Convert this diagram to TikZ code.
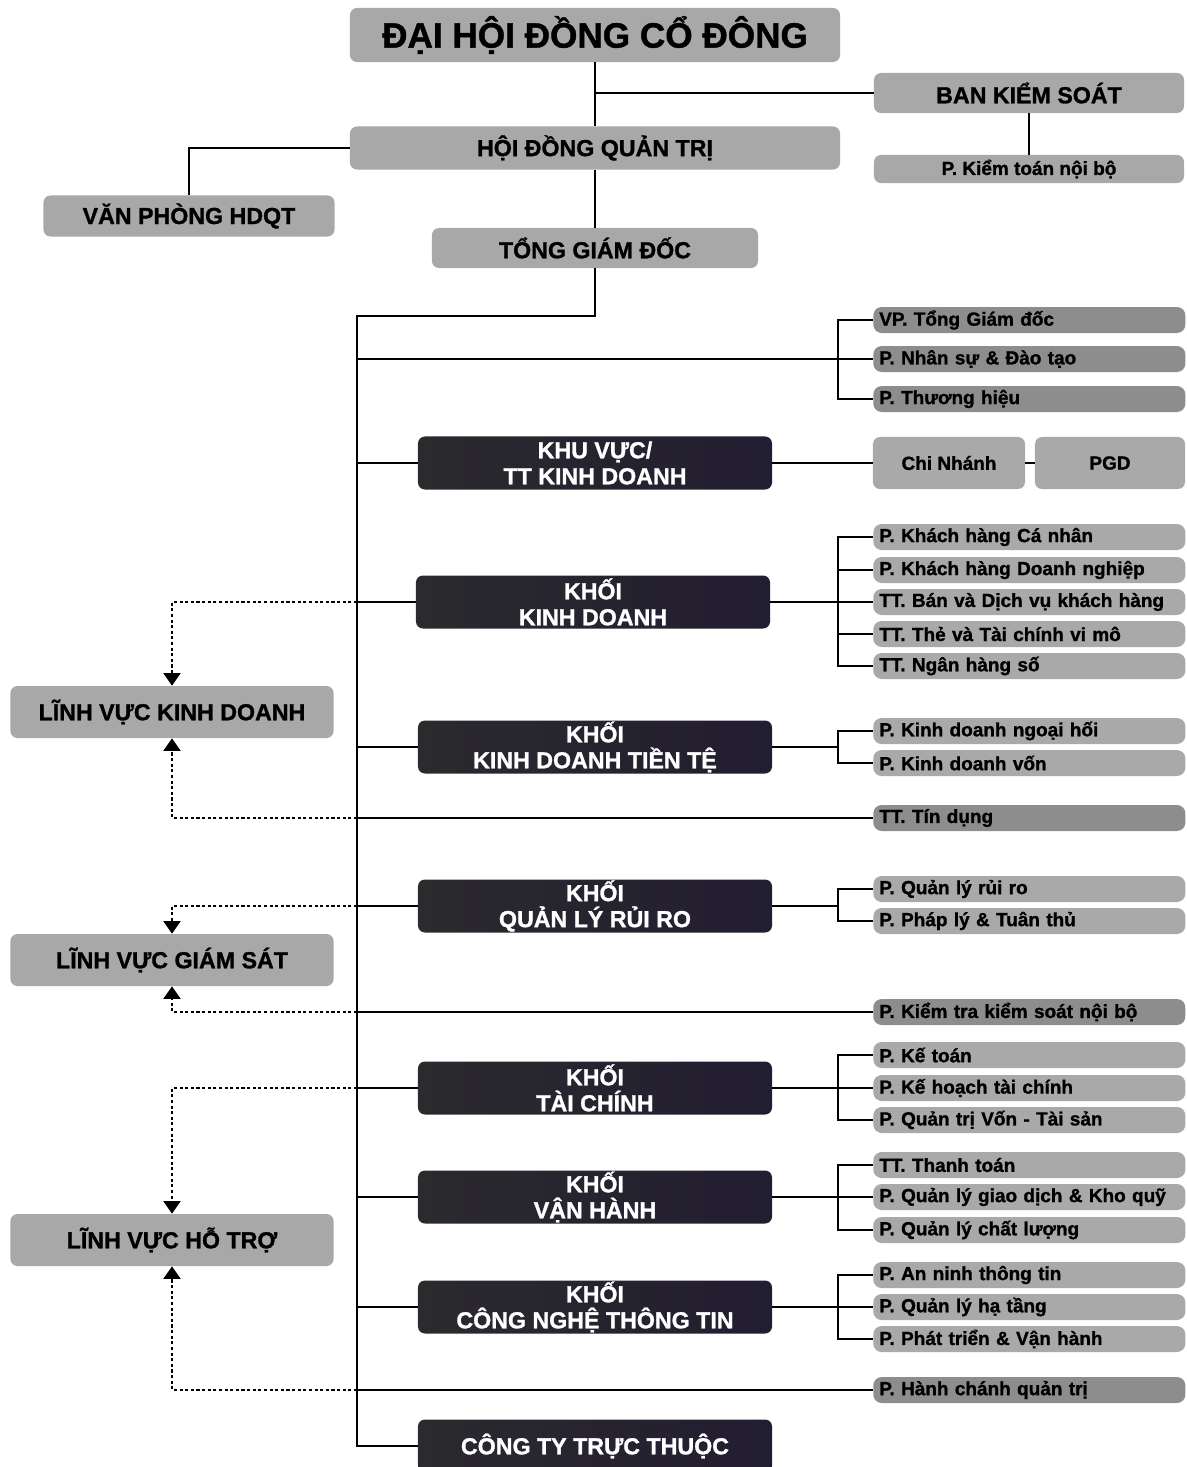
\documentclass[tikz,border=0pt]{standalone}
\usepackage{fontspec}
\setmainfont{Liberation Sans}[BoldFeatures={FakeBold=1.2}]
\usetikzlibrary{arrows.meta}

\definecolor{boxgray}{HTML}{A8A8A8}
\definecolor{subgray}{HTML}{A9A9A9}
\definecolor{subdark}{HTML}{8D8D8D}
\definecolor{darkA}{HTML}{2B2A2D}
\definecolor{darkB}{HTML}{221D31}

\begin{document}
\begin{tikzpicture}[x=0.025cm, y=-0.025cm,
    topbox/.style={fill=boxgray, rounded corners=5pt, inner sep=0pt, align=center,
        font=\bfseries\fontsize{16.5}{19}\selectfont},
    khoi/.style={rounded corners=5pt, left color=darkA, right color=darkB, text=white,
        inner sep=0pt, align=center, minimum width=8.85cm, minimum height=1.325cm,
        font=\bfseries\fontsize{16.5}{18.5}\selectfont},
    sub/.style={fill=#1, rounded corners=6pt, anchor=west, inner xsep=0.15cm, inner ysep=0pt,
        text width=7.5cm, minimum height=0.65cm, align=left,
        font=\bfseries\fontsize{13.5}{15}\selectfont},
    link/.style={line width=1.3pt},
    dotlink/.style={line width=1.8pt, dash pattern=on 2.2pt off 1.8pt,
        -{Triangle[width=12pt,length=9pt]}}
  ]
  \useasboundingbox (0,0) rectangle (1187,1467);

  % Top
  \node[topbox, minimum width=12.25cm, minimum height=1.35cm,
        font=\bfseries\fontsize{25}{28}\selectfont] (dhcd) at (595,35) {ĐẠI HỘI ĐỒNG CỔ ĐÔNG};
  \node[topbox, minimum width=7.75cm, minimum height=1cm] (bks) at (1029,93) {BAN KIỂM SOÁT};
  \node[topbox, minimum width=7.75cm, minimum height=0.7cm,
        font=\bfseries\fontsize{13.5}{15}\selectfont] (ktnb) at (1029,169) {P. Kiểm toán nội bộ};
  \node[topbox, minimum width=12.25cm, minimum height=1.075cm] (hdqt) at (595,148) {HỘI ĐỒNG QUẢN TRỊ};
  \node[topbox, minimum width=7.275cm, minimum height=1.025cm] (vphd) at (189,216) {VĂN PHÒNG HDQT};
  \node[topbox, minimum width=8.15cm, minimum height=1cm] (tgd) at (595,248) {TỔNG GIÁM ĐỐC};

  % Khoi
  \node[khoi] (kvkd) at (595,463) {KHU VỰC/\\TT KINH DOANH};
  \node[khoi] (kkd) at (593,602) {KHỐI\\KINH DOANH};
  \node[khoi] (kdtt) at (595,747) {KHỐI\\KINH DOANH TIỀN TỆ};
  \node[khoi] (qlrr) at (595,906) {KHỐI\\QUẢN LÝ RỦI RO};
  \node[khoi] (ktc) at (595,1088) {KHỐI\\TÀI CHÍNH};
  \node[khoi] (kvh) at (595,1197) {KHỐI\\VẬN HÀNH};
  \node[khoi] (cntt) at (595,1307) {KHỐI\\CÔNG NGHỆ THÔNG TIN};
  \node[khoi] (cty) at (595,1446) {CÔNG TY TRỰC THUỘC};

  % Linh vuc
  \node[topbox, minimum width=8.075cm, minimum height=1.3cm] (lvkd) at (172,712) {LĨNH VỰC KINH DOANH};
  \node[topbox, minimum width=8.075cm, minimum height=1.3cm] (lvgs) at (172,960) {LĨNH VỰC GIÁM SÁT};
  \node[topbox, minimum width=8.075cm, minimum height=1.3cm] (lvht) at (172,1240) {LĨNH VỰC HỖ TRỢ};

  % Phong ban
  \foreach \n/\y/\c/\t in {
      vptgd/320/subdark/VP. Tổng Giám đốc, nhansu/359/subdark/P. Nhân sự \& Đào tạo,
      thuonghieu/399/subdark/P. Thương hiệu,
      khcn/537/subgray/P. Khách hàng Cá nhân, khdn/570/subgray/P. Khách hàng Doanh nghiệp,
      bandv/602/subgray/TT. Bán và Dịch vụ khách hàng, thevm/634/subgray/TT. Thẻ và Tài chính vi mô,
      nhso/666/subgray/TT. Ngân hàng số,
      ngoaihoi/731/subgray/P. Kinh doanh ngoại hối, von/763/subgray/P. Kinh doanh vốn,
      tindung/818/subdark/TT. Tín dụng,
      ruiro/889/subgray/P. Quản lý rủi ro, phaply/921/subgray/P. Pháp lý \& Tuân thủ,
      ktksnb/1012/subdark/P. Kiểm tra kiểm soát nội bộ,
      ketoan/1055/subgray/P. Kế toán, khtc/1088/subgray/P. Kế hoạch tài chính,
      qtvon/1120/subgray/P. Quản trị Vốn - Tài sản,
      thanhtoan/1165/subgray/TT. Thanh toán, gdkq/1197/subgray/P. Quản lý giao dịch \& Kho quỹ,
      chatluong/1230/subgray/P. Quản lý chất lượng,
      anninh/1275/subgray/P. An ninh thông tin, hatang/1307/subgray/P. Quản lý hạ tầng,
      ptvh/1339/subgray/P. Phát triển \& Vận hành,
      hcqt/1390/subdark/P. Hành chánh quản trị}
    \node[sub=\c] (\n) at (873,\y) {\t};

  \node[topbox, fill=subgray, minimum width=3.8cm, minimum height=1.3cm,
        font=\bfseries\fontsize{13.5}{15}\selectfont] (chinhanh) at (949,463) {Chi Nhánh};
  \node[topbox, fill=subgray, minimum width=3.75cm, minimum height=1.3cm,
        font=\bfseries\fontsize{13.5}{15}\selectfont] (pgd) at (1110,463) {PGD};

  % Connections
  \coordinate (trk) at (357,316);
  \coordinate (brk) at (838,0);
  \draw[link] (dhcd.south) -- (hdqt.north);
  \draw[link] (dhcd.south |- bks.west) -- (bks.west);
  \draw[link] (bks.south) -- (ktnb.north);
  \draw[link] (hdqt.west) -| (vphd.north);
  \draw[link] (hdqt.south) -- (tgd.north);
  \draw[link] (tgd.south) |- (trk) |- (cty.west);

  \draw[link] (trk |- nhansu.west) -- (nhansu.west);
  \draw[link] (trk |- kvkd.west) -- (kvkd.west);
  \draw[link] (kvkd.east) -- (chinhanh.west);
  \draw[link] (chinhanh.east) -- (pgd.west);
  \foreach \k in {kkd,kdtt,qlrr,ktc,kvh,cntt} {
    \draw[link] (trk |- \k.west) -- (\k.west);
    \draw[link] (\k.east) -- (\k.east -| brk);
  }
  \foreach \a/\b in {vptgd/thuonghieu, khcn/nhso, ngoaihoi/von, ruiro/phaply,
                     ketoan/qtvon, thanhtoan/chatluong, anninh/ptvh}
    \draw[link] (\a.west) -- (\a.west -| brk) |- (\b.west);
  \foreach \m in {khdn,bandv,thevm,khtc,gdkq,hatang}
    \draw[link] (\m.west) -- (\m.west -| brk);
  \foreach \m in {tindung,ktksnb,hcqt}
    \draw[link] (trk |- \m.west) -- (\m.west);

  % Dotted links
  \draw[dotlink] (trk |- kkd.west) -| (lvkd.north);
  \draw[dotlink] (trk |- tindung.west) -| (lvkd.south);
  \draw[dotlink] (trk |- qlrr.west) -| (lvgs.north);
  \draw[dotlink] (trk |- ktksnb.west) -| (lvgs.south);
  \draw[dotlink] (trk |- ktc.west) -| (lvht.north);
  \draw[dotlink] (trk |- hcqt.west) -| (lvht.south);
\end{tikzpicture}
\end{document}
